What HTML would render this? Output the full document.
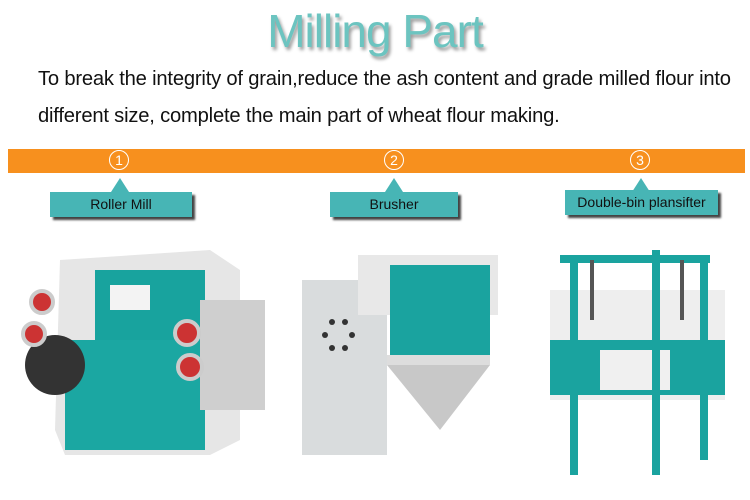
<!DOCTYPE html><html><head><style>
body{margin:0;width:750px;height:500px;background:#fff;position:relative;overflow:hidden;font-family:"Liberation Sans",sans-serif}
.t{position:absolute;left:0;width:750px;top:4px;text-align:center;font-size:46px;color:#6cc4c0;text-shadow:2px 3px 3px #999;letter-spacing:-1px}
.p{position:absolute;left:38px;font-size:20.2px;color:#111;letter-spacing:-0.2px;white-space:nowrap}
.bar{position:absolute;left:8px;top:149px;width:737px;height:24px;background:#f7901e}
.n{position:absolute;top:150px;width:18px;height:18px;border:1.5px solid #fff;border-radius:50%;color:#fff;font-size:14px;text-align:center;line-height:18px}
.c{position:absolute;height:25px;background:#47b5b5;box-shadow:3px 3px 2px #444;text-align:center;font-size:14px;line-height:25px;color:#111}
.tr{position:absolute;width:0;height:0;border-left:9px solid transparent;border-right:9px solid transparent;border-bottom:14px solid #47b5b5}
</style></head><body>
<div class="t">Milling Part</div>
<div class="p" style="top:68px">To break the integrity of grain,reduce the ash content and grade milled flour into</div>
<div class="p" style="top:105px">different size, complete the main part of wheat flour making.</div>
<div class="bar"></div>
<div class="n" style="left:109px">1</div><div class="n" style="left:384px">2</div><div class="n" style="left:630px">3</div>
<div class="tr" style="left:111px;top:178px"></div><div class="c" style="left:50px;top:192px;width:142px">Roller Mill</div>
<div class="tr" style="left:385px;top:178px"></div><div class="c" style="left:330px;top:192px;width:128px">Brusher</div>
<div class="tr" style="left:632px;top:178px"></div><div class="c" style="left:565px;top:190px;width:153px">Double-bin plansifter</div>
<svg style="position:absolute;left:0;top:230px" width="750" height="270">
<polygon points="60,30 210,20 240,40 240,210 210,225 65,225 55,200" fill="#e6e6e6"/>
<rect x="95" y="40" width="110" height="70" fill="#18a39e"/>
<rect x="110" y="55" width="40" height="25" fill="#f3f3f3"/>
<rect x="65" y="110" width="140" height="110" fill="#1ba7a2"/>
<rect x="200" y="70" width="65" height="110" fill="#cfcfcf"/>
<circle cx="55" cy="135" r="30" fill="#333"/>
<circle cx="42" cy="72" r="11" fill="#c33" stroke="#ccc" stroke-width="4"/>
<circle cx="34" cy="104" r="11" fill="#c33" stroke="#ccc" stroke-width="4"/>
<circle cx="187" cy="103" r="12" fill="#c33" stroke="#ccc" stroke-width="4"/>
<circle cx="190" cy="137" r="12" fill="#c33" stroke="#ccc" stroke-width="4"/>
<rect x="302" y="50" width="85" height="175" fill="#d9dcdd"/>
<rect x="358" y="25" width="140" height="60" fill="#e8e8e8"/>
<rect x="390" y="35" width="100" height="90" fill="#1aa39f"/>
<rect x="387" y="125" width="103" height="10" fill="#ddd"/>
<polygon points="387,135 490,135 440,200" fill="#c8c8c8"/>
<g fill="#333"><circle cx="332" cy="92" r="3"/><circle cx="345" cy="92" r="3"/><circle cx="325" cy="105" r="3"/><circle cx="352" cy="105" r="3"/><circle cx="332" cy="118" r="3"/><circle cx="345" cy="118" r="3"/></g>
<rect x="550" y="60" width="175" height="110" fill="#eee"/>
<polygon points="550,110 725,110 725,165 550,165" fill="#1aa39f"/>
<rect x="600" y="120" width="70" height="40" fill="#f0f0f0"/>
<rect x="570" y="30" width="8" height="215" fill="#1aa39f"/>
<rect x="652" y="20" width="8" height="225" fill="#1aa39f"/>
<rect x="700" y="30" width="8" height="200" fill="#1aa39f"/>
<rect x="560" y="25" width="150" height="8" fill="#1aa39f"/>
<rect x="590" y="30" width="4" height="60" fill="#555"/><rect x="680" y="30" width="4" height="60" fill="#555"/>
</svg>
</body></html>
